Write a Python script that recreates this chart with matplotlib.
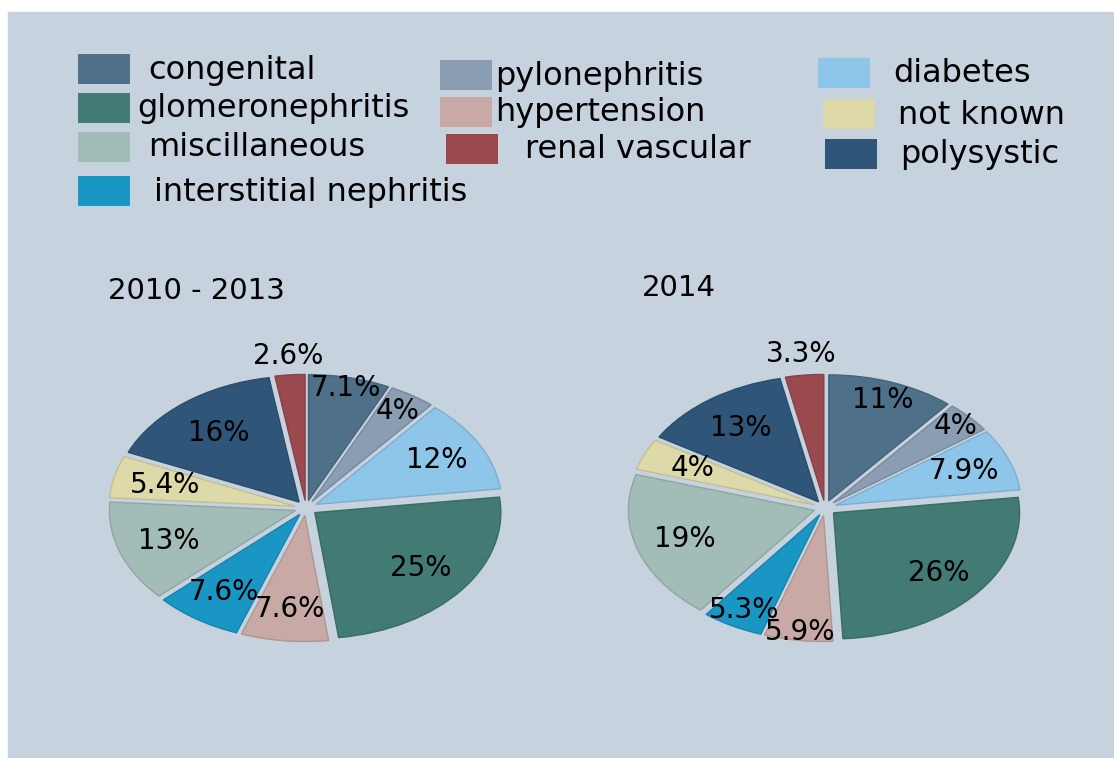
import matplotlib
matplotlib.use("Agg")
import matplotlib.pyplot as plt
import matplotlib.colors as mcolors
from matplotlib.patches import Rectangle
import numpy as np

W, H = 1114, 758

causes = ["congenital", "pylonephritis", "diabetes", "glomeronephritis",
          "hypertension", "interstitial nephritis", "miscillaneous",
          "not known", "polysystic", "renal vascular"]
colors = ["#4F7089", "#8A9DB3", "#8EC6EA", "#417B73", "#C8A9A5",
          "#1A96C4", "#A2BDB8", "#DDD9A9", "#2F5679", "#9A4A4F"]

share_2010_2013 = [7.1, 4, 12, 25, 7.6, 7.6, 13, 5.4, 16, 2.6]
share_2014 = [11, 4, 7.9, 26, 5.9, 5.3, 19, 4, 13, 3.3]
titles = ["2010 - 2013", "2014"]

# legend order as drawn (column by column)
legend_order = ["congenital", "glomeronephritis", "miscillaneous",
                "interstitial nephritis", "pylonephritis", "hypertension",
                "renal vascular", "diabetes", "not known", "polysystic"]
# patch left x, patch centre y, text x (pixels)
legend_pos = [(78, 69, 148), (78, 108, 137), (78, 147, 148), (78, 191, 154),
              (440, 75, 495), (440, 112, 495), (446, 149, 525),
              (818, 73, 893), (823, 114, 898), (825, 154, 900)]

# label radius per slice (fraction of radius)
label_r = [[0.92, 0.85, 0.74, 0.72, 0.75, 0.74, 0.72, 0.72, 0.70, 1.15],
           [0.85, 0.90, 0.74, 0.74, 0.93, 0.86, 0.73, 0.72, 0.72, 1.17]]


def fx(x):
    return x / W


def fy(y):
    return 1 - y / H


fig = plt.figure(figsize=(W / 100, H / 100), dpi=100)
fig.patch.set_facecolor("white")
fig.patches.append(Rectangle((fx(8), 0), 1 - fx(8), fy(12), color="#C6D2DE",
                             transform=fig.transFigure, zorder=-5))

for (name, (px, py, tx)) in zip(legend_order, legend_pos):
    c = colors[causes.index(name)]
    fig.patches.append(Rectangle((fx(px), fy(py + 15)), 52 / W, 30 / H,
                                 facecolor=c, edgecolor="none",
                                 transform=fig.transFigure, zorder=1))
    fig.text(fx(tx), fy(py + 1), name, fontsize=23, va="center", ha="left",
             color="black")

fig.text(fx(108), fy(291), titles[0], fontsize=21, va="center", ha="left")
fig.text(fx(642), fy(288), titles[1], fontsize=21, va="center", ha="left")

centers = [(306, 508), (825, 508)]
rx, ry, k = 186, 126, 1.3
for i, (vals, (cx, cy)) in enumerate(zip([share_2010_2013, share_2014],
                                         centers)):
    ax = fig.add_axes([fx(cx - rx * k), fy(cy + ry * k),
                       2 * rx * k / W, 2 * ry * k / H])
    edges = [tuple(np.array(mcolors.to_rgb(c)) * 0.88) for c in colors]
    wedges, _ = ax.pie(vals, colors=colors, startangle=90, counterclock=False,
                       explode=[0.06] * len(vals),
                       wedgeprops=dict(linewidth=1))
    for w, e in zip(wedges, edges):
        w.set_edgecolor(e)
    ax.set_aspect("auto")
    ax.set_xlim(-k, k)
    ax.set_ylim(-k, k)
    ax.axis("off")
    for w, v, r in zip(wedges, vals, label_r[i]):
        mid = np.deg2rad((w.theta1 + w.theta2) / 2)
        x0, y0 = w.center
        ax.text(x0 + r * np.cos(mid), y0 + r * np.sin(mid), f"{v:g}%",
                ha="center", va="center", fontsize=20, color="black")

fig.savefig("out.png", dpi=100, facecolor=fig.get_facecolor())
